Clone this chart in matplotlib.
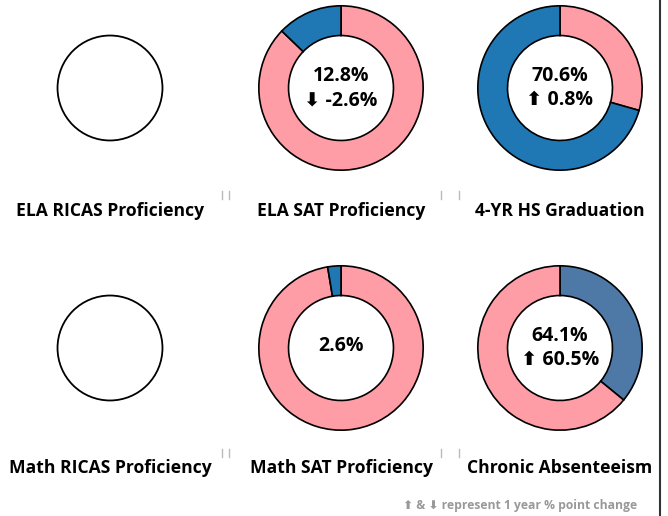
import matplotlib
matplotlib.use('Agg')
import matplotlib.pyplot as plt

# panel data (row-major: ELA row, Math row)
titles = ['ELA RICAS Proficiency', 'ELA SAT Proficiency', '4-YR HS Graduation',
          'Math RICAS Proficiency', 'Math SAT Proficiency', 'Chronic Absenteeism']
# wedge shares, drawn clockwise from 12 o'clock; None = no data (empty circle)
shares = [None, [87.2, 12.8], [29.4, 70.6],
          None, [97.4, 2.6], [35.9, 64.1]]
share_colors = [None, ['#ff9da7', '#1f77b4'], ['#ff9da7', '#1f77b4'],
                None, ['#ff9da7', '#1f77b4'], ['#4e79a7', '#ff9da7']]
values = ['', '12.8%', '70.6%', '', '2.6%', '64.1%']
changes = [None, -2.6, 0.8, None, None, 60.5]

W, H = 668, 516
fig = plt.figure(figsize=(W / 100, H / 100), dpi=100)

col_x = [110, 341, 560]
row_y = [88, 348]
R = 83          # outer radius px
r_in = 53       # hole radius px

fam = ['Open Sans', 'DejaVu Sans']

for i in range(6):
    cx = col_x[i % 3]
    cy = row_y[i // 3]
    ax = fig.add_axes([(cx - R) / W, 1 - (cy + R) / H, 2 * R / W, 2 * R / H])
    if shares[i] is None:
        ax.add_patch(plt.Circle((0, 0), r_in / R, facecolor='white',
                                edgecolor='black', lw=1.3))
    else:
        ax.pie(shares[i], colors=share_colors[i], startangle=90, counterclock=False,
               radius=1, wedgeprops=dict(width=1 - r_in / R, edgecolor='black', lw=1.2))
        if changes[i] is None:
            ax.text(0, 0.03, values[i], ha='center', va='center', fontsize=14,
                    fontweight='bold', family=fam)
        else:
            arrow = '⬆' if changes[i] > 0 else '⬇'
            ax.text(0, 0.15, values[i], ha='center', va='center', fontsize=14,
                    fontweight='bold', family=fam)
            ax.text(0, -0.15, f'{arrow} {changes[i]:.1f}%', ha='center', va='center',
                    fontsize=14, fontweight='bold', family=fam)
    ax.set_xlim(-1.01, 1.01)
    ax.set_ylim(-1.01, 1.01)
    ax.set_aspect('equal')
    ax.axis('off')

    # panel title
    ty = 211 if i < 3 else 468
    fig.text(cx / W, 1 - ty / H, titles[i], ha='center', va='center',
             fontsize=12.6, fontweight='bold', family=fam)

# little separator ticks between panels
for sy in (195, 453):
    for sx in (222, 229, 441, 459):
        fig.add_artist(plt.Line2D([sx / W, sx / W], [1 - (sy - 4) / H, 1 - (sy + 4) / H],
                                  color='#bbbbbb', lw=1))

# right border
fig.add_artist(plt.Line2D([660 / W, 660 / W], [0, 1], color='#333333', lw=1.5))

fig.text(637 / W, 1 - 505 / H, '⬆ & ⬇ represent 1 year % point change',
         ha='right', va='center', fontsize=8.7, fontweight='bold', color='#999999',
         family=fam)

fig.savefig('out.png', dpi=100)
